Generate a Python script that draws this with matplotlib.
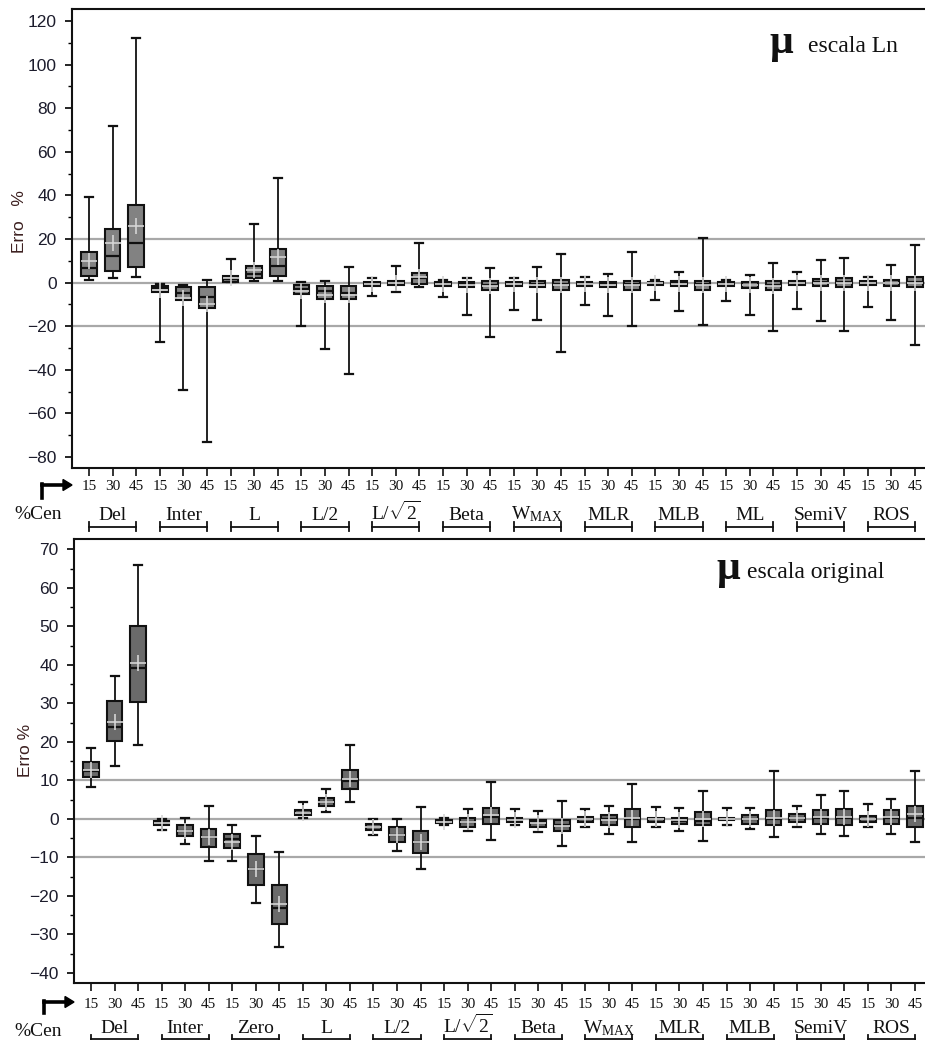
import matplotlib
matplotlib.use("Agg")
import matplotlib.pyplot as plt
from matplotlib.lines import Line2D
from matplotlib.ticker import MultipleLocator
import matplotlib.transforms as mtransforms

plt.rcParams['mathtext.fontset'] = 'custom'
plt.rcParams['mathtext.rm'] = 'Liberation Serif'
plt.rcParams['mathtext.it'] = 'Liberation Serif:italic'
plt.rcParams['mathtext.bf'] = 'Liberation Serif:bold'

# ---------------- data ----------------
cens = ["15", "30", "45"]

ln_groups = ["Del", "Inter", "L", "L/2", r"L/$\sqrt{2}$", "Beta",
             r"W$_{\mathrm{MAX}}$", "MLR", "MLB", "ML", "SemiV", "ROS"]
ln_whishi = [39.5, 71.9, 112.4, -0.5, -1.1, 1.4, 10.7, 26.9, 48.2, 0.2, 0.8, 7.2,
             2.0, 7.8, 18.2, 1.4, 2.0, 6.6, 2.0, 7.2, 13.0, 2.6, 3.8, 14.2,
             1.4, 4.9, 20.5, 1.4, 3.7, 8.9, 4.9, 10.2, 11.3, 2.6, 8.2, 17.1]
ln_q3 = [14.0, 24.4, 35.4, -1.4, -2.0, -2.0, 3.2, 7.8, 15.4, -0.9, -1.5, -1.5,
         0.3, 0.9, 4.4, 0.3, 0.2, 0.8, 0.3, 0.8, 1.4, 0.5, 0.3, 0.8,
         0.5, 0.8, 0.9, 0.3, 0.3, 0.8, 0.9, 1.5, 2.1, 0.9, 1.4, 2.6]
ln_med = [6.7, 12.4, 18.2, -2.6, -4.7, -6.6, 1.7, 4.1, 7.8, -2.9, -4.0, -4.7,
          -0.6, 0.0, 2.0, -0.6, -0.8, -0.9, -0.5, -0.5, -0.5, -0.5, -0.6, -0.8,
          -0.3, -0.2, -0.8, -0.6, -0.9, -0.9, 0.0, 0.2, 0.2, 0.0, -0.2, 0.2]
ln_q1 = [3.1, 5.5, 7.2, -4.4, -7.9, -11.5, 0.5, 2.0, 3.1, -5.0, -7.3, -7.3,
         -1.7, -0.9, -0.5, -1.7, -2.1, -3.4, -1.7, -2.1, -3.4, -1.7, -2.1, -3.4,
         -1.1, -1.7, -3.4, -1.7, -2.3, -3.4, -1.1, -1.5, -2.1, -0.9, -1.5, -2.1]
ln_whislo = [1.4, 2.1, 2.6, -27.0, -49.0, -73.3, 0.2, 0.6, 0.6, -20.0, -30.5, -42.0,
             -6.1, -4.4, -2.0, -6.7, -14.8, -24.7, -12.5, -17.3, -31.6, -10.2, -15.4, -20.0,
             -7.9, -13.1, -19.5, -8.5, -14.8, -22.4, -11.9, -17.7, -22.4, -11.3, -17.3, -28.7]
ln_mean = [9.8, 18.0, 26.1, -3.5, -7.0, -10.0, 2.3, 5.6, 11.8, -3.7, -5.6, -5.8,
           -0.8, 0.0, 2.4, -0.8, -1.1, -1.5, -0.8, -0.9, -1.1, -0.8, -0.9, -1.2,
           -0.3, -0.6, -1.1, -0.8, -1.1, -1.4, -0.2, -0.2, -0.2, -0.2, -0.2, 0.0]

orig_groups = ["Del", "Inter", "Zero", "L", "L/2", r"L/$\sqrt{2}$", "Beta",
               r"W$_{\mathrm{MAX}}$", "MLR", "MLB", "SemiV", "ROS"]
orig_whishi = [18.3, 37.0, 65.9, -0.1, 0.3, 3.4, -1.6, -4.4, -8.5, 4.4, 7.7, 19.3,
               -0.1, 0.0, 3.1, 0.3, 2.5, 9.7, 2.5, 2.1, 4.7, 2.5, 3.4, 9.1,
               3.1, 2.8, 7.3, 2.8, 2.8, 12.5, 3.4, 6.2, 7.3, 3.8, 5.3, 12.5]
orig_q3 = [14.9, 30.6, 50.1, -0.5, -1.6, -2.5, -3.8, -9.1, -17.2, 2.2, 5.4, 12.7,
           -1.3, -2.2, -3.2, -0.3, 0.3, 2.8, 0.2, -0.3, -0.3, 0.6, 0.9, 2.5,
           0.3, 0.3, 1.9, 0.3, 0.9, 2.2, 1.3, 2.2, 2.5, 0.7, 2.2, 3.4]
orig_med = [12.5, 23.9, 39.1, -1.1, -3.0, -4.8, -5.3, -13.0, -23.1, 1.5, 4.4, 9.9,
            -2.0, -4.1, -6.1, -0.6, -0.7, 0.6, -0.3, -0.9, -1.5, 0.0, -0.1, -0.1,
            -0.1, -0.5, -0.5, 0.0, 0.0, 0.0, 0.3, 0.3, 0.3, 0.0, 0.3, 0.3]
orig_q1 = [10.9, 20.2, 30.3, -1.6, -4.5, -7.3, -7.6, -17.2, -27.2, 0.9, 3.4, 7.9,
           -2.8, -6.0, -8.9, -1.0, -2.0, -1.4, -0.7, -2.0, -3.2, -0.7, -1.6, -2.2,
           -0.7, -1.4, -1.6, -0.3, -1.4, -1.6, -0.7, -1.4, -1.6, -0.7, -1.4, -2.0]
orig_whislo = [8.2, 13.8, 19.2, -2.8, -6.6, -10.8, -10.8, -21.8, -33.2, 0.2, 1.8, 4.4,
               -4.1, -8.2, -12.9, -1.6, -3.2, -5.4, -1.6, -3.5, -6.9, -2.2, -3.8, -6.1,
               -2.0, -3.2, -5.7, -1.6, -2.6, -4.8, -2.2, -3.8, -4.4, -2.2, -3.8, -6.1]
orig_mean = [12.7, 25.2, 40.4, -1.1, -3.1, -4.8, -5.9, -12.9, -22.1, 1.6, 4.4, 10.3,
             -2.0, -4.1, -6.0, -0.7, -0.8, 0.9, -0.3, -1.1, -1.8, 0.0, -0.3, 0.3,
             -0.1, -0.4, 0.0, 0.0, 0.0, 0.3, 0.3, 0.5, 0.5, 0.0, 0.6, 1.4]

# ---------------- figure ----------------
W, H = 925, 1041
fig = plt.figure(figsize=(W / 100, H / 100), dpi=100)


def fy(px):
    """figure fraction from a pixel row measured from the top"""
    return 1 - px / H


def fx(px):
    return px / W


def make_stats(lo, q1, med, q3, hi, mean):
    return [dict(whislo=a, q1=b, med=c, q3=d, whishi=e, mean=f, fliers=[])
            for a, b, c, d, e, f in zip(lo, q1, med, q3, hi, mean)]


def panel(rect, stats, face, ylim, major, minor, refs, xlim):
    ax = fig.add_axes(rect)
    pos = list(range(1, len(stats) + 1))
    ax.bxp(stats, positions=pos, widths=0.66, capwidths=0.34,
           showmeans=True, showfliers=False, patch_artist=True,
           boxprops=dict(facecolor=face, edgecolor='#111111', linewidth=1.5),
           medianprops=dict(color='#111111', linewidth=1.6),
           whiskerprops=dict(color='#111111', linewidth=1.3),
           capprops=dict(color='#111111', linewidth=1.6),
           meanprops=dict(marker='+', markeredgecolor='#d4d4d4',
                          markersize=11, markeredgewidth=1.2))
    for r in refs:
        ax.axhline(r, color='#a8a8a8', lw=1.6, zorder=0.5)
    ax.set_xlim(*xlim)
    ax.set_ylim(*ylim)
    ax.yaxis.set_major_locator(MultipleLocator(major))
    ax.yaxis.set_minor_locator(MultipleLocator(minor))
    ax.set_xticks(pos)
    ax.tick_params(axis='x', direction='out', length=6, width=1.2,
                   labelbottom=False, color='#111111')
    ax.tick_params(axis='y', which='major', direction='out', length=5,
                   width=1.2, pad=6, labelsize=12.5, labelcolor='#1c1c2c')
    ax.tick_params(axis='y', which='minor', direction='out', length=3,
                   width=1.0)
    for lab in ax.get_yticklabels():
        lab.set_family('Liberation Sans')
    ax.spines['right'].set_visible(False)
    for s in ('left', 'bottom', 'top'):
        ax.spines[s].set_linewidth(1.5)
        ax.spines[s].set_color('#111111')
    return ax


def categories(ax, groups, y_num, y_grp, y_br, tick_only_up=False):
    tr = mtransforms.blended_transform_factory(ax.transData, fig.transFigure)
    for g, name in enumerate(groups):
        for k, c in enumerate(cens):
            ax.text(1 + 3 * g + k, fy(y_num), c, transform=tr, ha='center',
                    va='baseline', fontsize=11, family='Liberation Serif',
                    color='#111111')
        ax.text(2 + 3 * g, fy(y_grp), name, transform=tr, ha='center',
                va='baseline', fontsize=14, family='Liberation Serif',
                color='#111111')
        x1, x3 = 1 + 3 * g, 3 + 3 * g
        ax.add_line(Line2D([x1, x3], [fy(y_br), fy(y_br)], transform=tr,
                           color='#111111', lw=1.3, clip_on=False))
        top = fy(y_br - 4.5)
        bot = fy(y_br) if tick_only_up else fy(y_br + 4.5)
        for xe in (x1, x3):
            ax.add_line(Line2D([xe, xe], [bot, top], transform=tr,
                               color='#111111', lw=1.3, clip_on=False))


def cen_arrow(x_vert, y_low, y_row, x_tip, y_text):
    fig.add_artist(Line2D([fx(x_vert), fx(x_vert)], [fy(y_low), fy(y_row - 1.2)],
                          color='k', lw=2.6))
    fig.add_artist(Line2D([fx(x_vert), fx(x_tip - 8)], [fy(y_row), fy(y_row)],
                          color='k', lw=2.6))
    fig.add_artist(plt.Polygon([[fx(x_tip), fy(y_row)],
                                [fx(x_tip - 9), fy(y_row - 5.5)],
                                [fx(x_tip - 9), fy(y_row + 5.5)]],
                               closed=True, color='k', transform=fig.transFigure))
    fig.text(fx(38), fy(y_text), "%Cen", ha='center', va='baseline',
             fontsize=14, family='Liberation Serif', color='#111111')


# ---- upper panel: log scale ----
ax1 = panel([fx(72), fy(468), fx(925 - 72), (468 - 9) / H],
            make_stats(ln_whislo, ln_q1, ln_med, ln_q3, ln_whishi, ln_mean),
            '#828282', (-85, 125.5), 20, 10, (-20, 0, 20), (0.28, 36.42))
categories(ax1, ln_groups, 490.5, 519.5, 526.7)
cen_arrow(42, 498, 485, 72, 519)
fig.text(fx(19), fy(222), "Erro   %", rotation=90, ha='center', va='center',
         fontsize=12.5, family='Liberation Sans', color='#3c1f1f')
fig.text(fx(781), fy(53), "\u03bc", ha='center', va='baseline', fontsize=30,
         family='Liberation Serif', weight='bold', color='#111111')
fig.text(fx(808), fy(52), "escala Ln", ha='left', va='baseline', fontsize=17,
         family='Liberation Serif', color='#111111')

# ---- lower panel: original scale ----
ax2 = panel([fx(74), fy(983), fx(925 - 74), (983 - 539) / H],
            make_stats(orig_whislo, orig_q1, orig_med, orig_q3, orig_whishi, orig_mean),
            '#6a6a6a', (-42.6, 72.7), 10, 5, (-10, 0, 10), (0.278, 36.43))
categories(ax2, orig_groups, 1008, 1033, 1039.3, tick_only_up=True)
cen_arrow(44, 1013, 1002, 74, 1036)
fig.text(fx(26), fy(750), "Erro %", rotation=90, ha='center', va='center',
         fontsize=12.5, family='Liberation Sans', color='#3c1f1f')
fig.text(fx(728), fy(579), "\u03bc", ha='center', va='baseline', fontsize=30,
         family='Liberation Serif', weight='bold', color='#111111')
fig.text(fx(747), fy(578), "escala original", ha='left', va='baseline', fontsize=17,
         family='Liberation Serif', color='#111111')

fig.savefig("out.png", dpi=100)
